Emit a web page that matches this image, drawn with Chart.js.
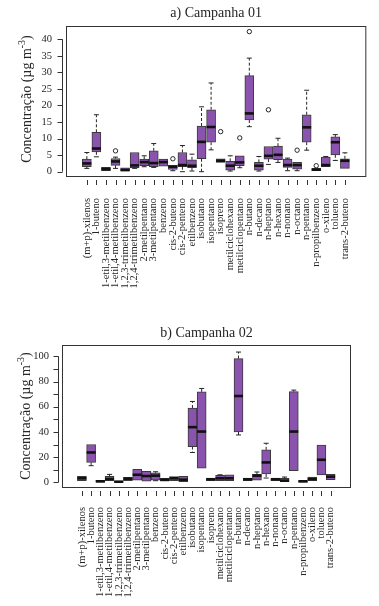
<!DOCTYPE html>
<html lang="pt">
<head>
    <meta charset="UTF-8">
    <title>Campanhas 01 e 02</title>
    <script src="https://cdn.jsdelivr.net/npm/chart.js"></script>
    <style>
        body {
            margin: 0;
            background: #ffffff;
        }

        .panel {
            position: absolute;
            left: 0;
        }
    </style>
</head>
<body>
    <canvas id="chartA" class="panel" width="379" height="300" style="top:0"></canvas>
    <canvas id="chartB" class="panel" width="379" height="306" style="top:300px"></canvas>

<script>
const compostos = ['(m+p)-xilenos', '1-buteno', '1-etil,3-metilbenzeno', '1-etil,4-metilbenzeno',
    '1,2,3-trimetilbenzeno', '1,2,4-trimetilbenzeno', '2-metilpentano', '3-metilpentano', 'benzeno',
    'cis-2-buteno', 'cis-2-penteno', 'etilbenzeno', 'isobutano', 'isopentano', 'isopreno',
    'metilciclohexano', 'metilciclopentano', 'n-butano', 'n-decano', 'n-heptano', 'n-hexano',
    'n-nonano', 'n-octano', 'n-pentano', 'n-propilbenzeno', 'o-xileno', 'tolueno', 'trans-2-buteno'];

// Campanha 01 (µg m-3)
const minA = [1.0, 4.5, 0.2, 1.0, 0.1, 1.0, 1.5, 1.3, 1.7, 0.3, 0.0, 0.2, 0.0, 6.6, 2.8, 0.2, 1.2, 13.6, 0.2, 2.2, 2.8, 0.3, 0.3, 6.5, 0.3, 1.5, 3.4, 1.0];
const q1A  = [1.5, 6.0, 0.3, 1.9, 0.2, 1.2, 1.8, 1.5, 1.7, 0.7, 1.5, 1.2, 3.9, 8.9, 2.8, 0.5, 1.8, 15.6, 0.5, 3.8, 3.6, 1.3, 0.8, 8.9, 0.3, 1.5, 5.1, 1.0];
const medA = [2.5, 7.0, 0.8, 3.1, 0.5, 1.9, 2.9, 2.6, 2.9, 1.5, 2.0, 1.8, 9.0, 13.5, 3.3, 1.8, 2.8, 17.6, 1.8, 4.8, 5.1, 2.0, 2.0, 13.4, 0.6, 2.0, 8.9, 3.3];
const q3A  = [3.8, 11.9, 1.3, 4.0, 1.2, 5.8, 3.8, 6.3, 3.8, 1.9, 5.8, 3.6, 13.8, 18.7, 3.9, 3.1, 4.8, 29.0, 2.8, 7.6, 7.7, 3.8, 2.8, 17.2, 1.0, 4.4, 10.5, 3.9];
const maxA = [5.8, 17.2, 1.3, 4.4, 1.2, 5.8, 4.8, 8.5, 3.8, 1.9, 7.9, 5.3, 19.6, 26.8, 3.9, 4.8, 4.8, 34.3, 4.6, 7.6, 10.1, 4.1, 2.8, 24.6, 1.0, 4.6, 11.2, 5.7];
const outA = [[], [], [], [6.3], [], [], [], [], [], [3.9], [], [], [], [], [12.1], [], [10.2], [42.3], [], [18.7], [], [], [6.5], [], [1.8], [], [], []];
const yTicksA = [0, 5, 10, 15, 20, 25, 30, 35, 40];

// Campanha 02 (µg m-3)
const minB = [1.3, 13.2, 0.0, 1.3, 0.0, 1.3, 1.8, 1.0, 1.3, 1.0, 1.3, 0.5, 23.7, 11.3, 1.3, 1.3, 1.3, 37.6, 1.3, 1.8, 3.4, 1.3, 0.5, 9.2, 0.0, 1.3, 5.8, 2.1];
const q1B  = [1.3, 15.8, 0.2, 1.3, 0.1, 1.3, 1.8, 1.0, 1.8, 1.0, 1.3, 0.5, 28.4, 11.3, 1.3, 1.3, 1.3, 40.0, 1.3, 1.8, 6.6, 1.3, 0.5, 9.2, 0.2, 1.3, 5.8, 2.1];
const medB = [3.2, 23.7, 0.8, 2.6, 0.5, 2.9, 6.0, 5.0, 5.3, 2.1, 3.2, 2.1, 43.8, 40.3, 2.4, 3.2, 3.2, 68.5, 2.4, 5.3, 15.8, 2.4, 1.3, 40.3, 0.8, 2.6, 17.9, 4.5];
const q3B  = [4.7, 30.0, 1.5, 4.7, 1.0, 3.9, 10.3, 8.7, 7.6, 3.2, 4.5, 4.7, 59.0, 71.8, 3.4, 5.5, 6.0, 98.2, 3.4, 6.3, 25.8, 3.4, 3.2, 72.0, 1.3, 4.2, 29.5, 6.3];
const maxB = [4.7, 30.0, 1.5, 6.3, 1.0, 3.9, 10.3, 8.7, 8.4, 3.2, 4.5, 4.7, 64.2, 74.5, 3.4, 6.0, 6.0, 103.4, 3.4, 8.2, 31.0, 3.4, 4.2, 73.2, 1.3, 4.2, 29.8, 6.3];
const outB = compostos.map(() => []);
const yTicksB = [0, 10, 20, 30, 40, 50, 60, 70, 80, 90, 100];

const serif = 'Liberation Serif, Times New Roman, serif';
const ink = '#262626';

// whiskers, medians, outliers, frame, axes and titles (all through the chart scales)
function boxPlugin(stats, titulo, yTicks, tituloX, tituloY) {
    return {
        id: 'boxExtras',
        afterDatasetsDraw(chart) {
            const ctx = chart.ctx, xs = chart.scales.x, ys = chart.scales.y, a = chart.chartArea;
            const half = 4.5, cap = 2.5;
            ctx.save();
            ctx.strokeStyle = ink;
            compostos.forEach((c, i) => {
                const px = xs.getPixelForValue(i + 1);
                const yq1 = ys.getPixelForValue(stats.q1[i]);
                const yq3 = ys.getPixelForValue(stats.q3[i]);
                const ylo = ys.getPixelForValue(stats.min[i]);
                const yhi = ys.getPixelForValue(stats.max[i]);
                ctx.lineWidth = 1;
                ctx.setLineDash([3, 2]);
                ctx.beginPath();
                if (yhi < yq3 - 0.5) { ctx.moveTo(px, yq3); ctx.lineTo(px, yhi); }
                if (ylo > yq1 + 0.5) { ctx.moveTo(px, yq1); ctx.lineTo(px, ylo); }
                ctx.stroke();
                ctx.setLineDash([]);
                ctx.beginPath();
                if (yhi < yq3 - 0.5) { ctx.moveTo(px - cap, yhi); ctx.lineTo(px + cap, yhi); }
                if (ylo > yq1 + 0.5) { ctx.moveTo(px - cap, ylo); ctx.lineTo(px + cap, ylo); }
                ctx.stroke();
                // median
                const ym = ys.getPixelForValue(stats.med[i]);
                ctx.lineWidth = 2.6;
                ctx.strokeStyle = '#111';
                ctx.beginPath();
                ctx.moveTo(px - half, ym);
                ctx.lineTo(px + half, ym);
                ctx.stroke();
                ctx.strokeStyle = ink;
                // outliers
                ctx.lineWidth = 1;
                stats.out[i].forEach(v => {
                    ctx.beginPath();
                    ctx.arc(px, ys.getPixelForValue(v), 2.2, 0, Math.PI * 2);
                    ctx.stroke();
                });
            });

            // frame
            ctx.lineWidth = 1;
            ctx.strokeStyle = '#333';
            ctx.strokeRect(a.left + 0.5, a.top + 0.5, a.width - 1, a.height - 1);

            // y axis line and ticks
            const ax = a.left - 3.5;
            ctx.beginPath();
            ctx.moveTo(ax, ys.getPixelForValue(yTicks[0]));
            ctx.lineTo(ax, ys.getPixelForValue(yTicks[yTicks.length - 1]));
            yTicks.forEach(v => {
                const py = Math.round(ys.getPixelForValue(v)) + 0.5;
                ctx.moveTo(ax - 5, py);
                ctx.lineTo(ax, py);
            });
            // x ticks
            compostos.forEach((c, i) => {
                const px = Math.round(xs.getPixelForValue(i + 1)) + 0.5;
                ctx.moveTo(px, a.bottom + 3);
                ctx.lineTo(px, a.bottom + 8);
            });
            ctx.stroke();

            // title
            ctx.fillStyle = ink;
            ctx.font = '14px ' + serif;
            ctx.textAlign = 'center';
            ctx.textBaseline = 'middle';
            ctx.fillText(titulo.text, (a.left + a.right) / 2, titulo.y);

            // y title with superscript
            ctx.translate(tituloX, tituloY);
            ctx.rotate(-Math.PI / 2);
            ctx.textAlign = 'left';
            ctx.font = '14px ' + serif;
            const p1 = 'Concentração (µg m', p3 = ')';
            const w1 = ctx.measureText(p1).width, w3 = ctx.measureText(p3).width;
            ctx.font = '10px ' + serif;
            const w2 = ctx.measureText('-3').width;
            const sx = -(w1 + w2 + w3) / 2;
            ctx.font = '14px ' + serif;
            ctx.fillText(p1, sx, 0);
            ctx.font = '10px ' + serif;
            ctx.fillText('-3', sx + w1, -5);
            ctx.font = '14px ' + serif;
            ctx.fillText(p3, sx + w1 + w2, 0);
            ctx.restore();
        }
    };
}

function makeChart(id, stats, cfg) {
    const ctx = document.getElementById(id).getContext('2d');
    return new Chart(ctx, {
        type: 'bar',
        data: {
            datasets: [{
                data: compostos.map((c, i) => ({ x: i + 1, y: [stats.q1[i], stats.q3[i]] })),
                backgroundColor: '#8953ae',
                borderColor: '#3a3a3a',
                borderWidth: 1,
                borderSkipped: false,
                barThickness: 9
            }]
        },
        options: {
            responsive: false,
            devicePixelRatio: 1,
            animation: false,
            events: [],
            layout: { padding: { top: cfg.top, right: cfg.right, left: 0, bottom: 0 } },
            plugins: { legend: { display: false }, tooltip: { enabled: false } },
            scales: {
                x: {
                    type: 'linear',
                    min: cfg.xmin,
                    max: cfg.xmax,
                    grid: { display: false, drawTicks: false },
                    border: { display: false },
                    afterBuildTicks: s => { s.ticks = compostos.map((c, i) => ({ value: i + 1 })); },
                    afterFit: s => { s.height = cfg.xHeight; },
                    ticks: {
                        autoSkip: false,
                        minRotation: 90,
                        maxRotation: 90,
                        padding: cfg.xPad,
                        color: ink,
                        font: { family: serif, size: 10.5 },
                        callback: v => compostos[v - 1] || ''
                    }
                },
                y: {
                    min: cfg.ymin,
                    max: cfg.ymax,
                    grid: { display: false, drawTicks: false },
                    border: { display: false },
                    afterBuildTicks: s => { s.ticks = cfg.yTicks.map(v => ({ value: v })); },
                    afterFit: s => { s.width = cfg.left; },
                    ticks: {
                        padding: cfg.yPad,
                        color: ink,
                        font: { family: serif, size: 10.5 }
                    }
                }
            }
        },
        plugins: [boxPlugin(stats, cfg.titulo, cfg.yTicks, cfg.yTitleX, cfg.yTitleY)]
    });
}

makeChart('chartA',
    { min: minA, q1: q1A, med: medA, q3: q3A, max: maxA, out: outA },
    { top: 26, right: 7, left: 66, xHeight: 123, xmin: -0.62, xmax: 29.68, ymin: -1.6, ymax: 44,
      xPad: 21, yPad: 14, yTicks: yTicksA, yTitleX: 27, yTitleY: 99,
      titulo: { text: 'a) Campanha 01', y: 13 } });

makeChart('chartB',
    { min: minB, q1: q1B, med: medB, q3: q3B, max: maxB, out: outB },
    { top: 45, right: 28, left: 62, xHeight: 118, xmin: -0.6, xmax: 29.65, ymin: -4.5, ymax: 109,
      xPad: 19, yPad: 13, yTicks: yTicksB, yTitleX: 26, yTitleY: 116,
      titulo: { text: 'b) Campanha 02', y: 33 } });
</script>
</body>
</html>
